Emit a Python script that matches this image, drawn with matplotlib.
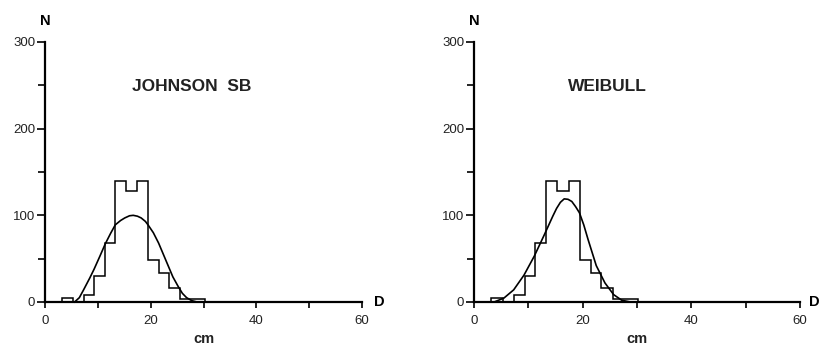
import matplotlib
matplotlib.use("Agg")
import matplotlib.pyplot as plt

plt.rcParams['font.family'] = ['Liberation Sans', 'DejaVu Sans']

# histogram (same observed data in both panels)
bin_edges = [3.2, 5.3, 7.3, 9.3, 11.3, 13.3, 15.3, 17.5, 19.5, 21.5, 23.4, 25.5, 27.8, 30.2]
counts = [5, 0, 8, 30, 68, 140, 128, 140, 48, 34, 16, 4, 3]

# fitted curves
johnson_x = [5.6, 6.5, 7.3, 8.5, 9.3, 10.4, 11.4, 12.4, 13.3, 14.3, 15.1, 16.0, 16.7,
             17.5, 18.2, 19.0, 19.5, 20.5, 21.5, 22.4, 23.3, 24.2, 25.2, 26.0, 26.8, 27.8, 28.8]
johnson_y = [0, 5, 14, 28, 38, 53, 67, 79, 89, 94, 97, 99.5, 100,
             99, 97, 93, 89, 80, 68, 55, 42, 29, 18, 10, 5, 1.5, 0]

weibull_x = [3.9, 5.5, 7.3, 9.2, 11.1, 12.9, 14.5, 15.2, 15.9, 16.6, 17.3, 18.0, 18.7,
             19.4, 20.2, 21.0, 22.5, 24.1, 25.7, 27.2, 28.8]
weibull_y = [0.5, 4.5, 14, 31, 53, 77, 99, 108, 115, 119, 118.5, 116, 110,
             103, 89, 72, 42, 22, 8.5, 2, 0]

titles = ["JOHNSON  SB", "WEIBULL"]
title_x = [27.8, 24.5]
curves = [(johnson_x, johnson_y), (weibull_x, weibull_y)]

fig = plt.figure(figsize=(8.21, 3.5), dpi=100)
ax_pos = [[45/821, 48/350, 317/821, 260/350],
          [474/821, 48/350, 326/821, 260/350]]
d_x = [1.055, 1.043]

for i in range(2):
    ax = fig.add_axes(ax_pos[i])
    ax.stairs(counts, bin_edges, color="black", lw=1.1, clip_on=False)
    ax.plot(curves[i][0], curves[i][1], color="black", lw=1.2, clip_on=False)
    ax.set_xlim(0, 60)
    ax.set_ylim(0, 300)
    for s in ["top", "right"]:
        ax.spines[s].set_visible(False)
    for s in ["left", "bottom"]:
        ax.spines[s].set_linewidth(1.6)
    ax.set_xticks([0, 20, 40, 60])
    ax.set_xticks([10, 30, 50], minor=True)
    ax.set_yticks([0, 100, 200, 300])
    ax.set_yticks([50, 150, 250], minor=True)
    ax.tick_params(axis="x", which="both", length=4, width=1.2, labelsize=9.5, pad=5,
                   labelcolor="#222222")
    ax.tick_params(axis="y", which="major", length=6, width=1.2, labelsize=9.5, pad=1,
                   labelcolor="#222222")
    ax.tick_params(axis="y", which="minor", length=5, width=1.2)
    ax.text(title_x[i], 249, titles[i], ha="center", va="center",
            fontsize=12.5, fontweight="bold", color="#222222")
    ax.text(0, 1.08, "N", transform=ax.transAxes, ha="center", va="center",
            fontsize=10.5, fontweight="bold")
    ax.text(d_x[i], 0.0, "D", transform=ax.transAxes, ha="center", va="center",
            fontsize=10.5, fontweight="bold")
    ax.set_xlabel("cm", fontsize=10.5, fontweight="bold", labelpad=4, color="#222222")

fig.savefig("out.png", dpi=100, facecolor="white")
